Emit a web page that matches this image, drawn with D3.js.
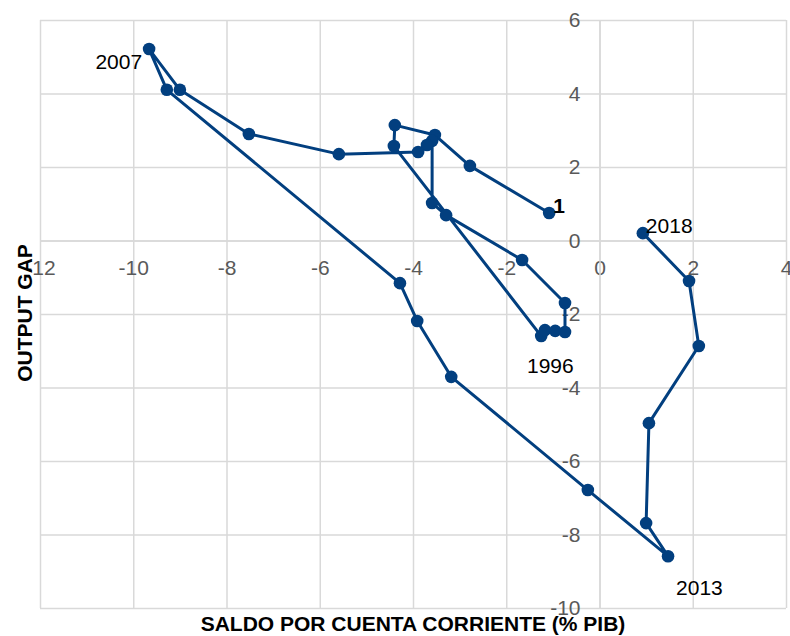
<!DOCTYPE html>
<html>
<head>
<meta charset="utf-8">
<script src="https://cdnjs.cloudflare.com/ajax/libs/d3/7.8.5/d3.min.js"></script>
<style>
body { margin: 0; background: #fff; }
svg { display: block; font-family: "Liberation Sans", Arial, sans-serif; }
</style>
</head>
<body>
<script>
var width = 790;
var height = 636;

// data
var years = [1988, 1989, 1990, 1991, 1992, 1993, 1994, 1995, 1996, 1997,
  1998, 1999, 2000, 2001, 2002, 2003, 2004, 2005, 2006, 2007,
  2008, 2009, 2010, 2011, 2012, 2013, 2014, 2015, 2016, 2017, 2018];
var saldoCC = [-1.08, -2.78, -3.53, -4.39, -4.41, -1.25, -1.17, -0.95, -0.74, -0.74,
  -1.66, -3.29, -3.59, -3.59, -3.70, -3.89, -5.59, -7.52, -9.0, -9.66,
  -9.28, -4.28, -3.91, -3.18, -0.25, 1.47, 1.0, 1.06, 2.13, 1.92, 0.93];
var outputGap = [0.75, 2.03, 2.87, 3.14, 2.57, -2.6, -2.44, -2.46, -2.49, -1.70,
  -0.53, 0.69, 1.02, 2.71, 2.60, 2.41, 2.35, 2.90, 4.10, 5.21,
  4.10, -1.16, -2.19, -3.71, -6.79, -8.59, -7.69, -4.97, -2.87, -1.10, 0.20];
var labelYears = [1988, 1996, 2007, 2013, 2018];
var labelTexts = ["1", "1996", "2007", "2013", "2018"];

var xTicks = [-12, -10, -8, -6, -4, -2, 0, 2, 4];
var yTicks = [-10, -8, -6, -4, -2, 0, 2, 4, 6];

var points = years.map(function(y, i) {
  return {year: y, x: saldoCC[i], y: outputGap[i]};
});

var plotLeft = 40, plotRight = 786, plotTop = 20, plotBottom = 608;

var xScale = d3.scaleLinear().domain([-12, 4]).range([plotLeft, plotRight]);
var yScale = d3.scaleLinear().domain([-10, 6]).range([plotBottom, plotTop]);

var svg = d3.select("body").append("svg")
  .attr("width", width)
  .attr("height", height);

var gridColor = "#d9d9d9";
var fmt = function(d) { return String(d); };

// grid
var gx = svg.append("g")
  .attr("transform", "translate(0," + plotBottom + ")")
  .call(d3.axisBottom(xScale).tickValues(xTicks).tickSize(-(plotBottom - plotTop)).tickFormat(""));
var gy = svg.append("g")
  .attr("transform", "translate(" + plotLeft + ",0)")
  .call(d3.axisLeft(yScale).tickValues(yTicks).tickSize(-(plotRight - plotLeft)).tickFormat(""));
[gx, gy].forEach(function(g) {
  g.select(".domain").remove();
  g.selectAll("line").attr("stroke", gridColor).attr("stroke-width", 1.5);
});

// axes crossing at the origin
var xAxis = svg.append("g")
  .attr("transform", "translate(0," + yScale(0) + ")")
  .call(d3.axisBottom(xScale).tickValues(xTicks).tickSize(0).tickPadding(20).tickFormat(fmt));
var yAxis = svg.append("g")
  .attr("transform", "translate(" + xScale(0) + ",0)")
  .call(d3.axisLeft(yScale).tickValues(yTicks).tickSize(0).tickPadding(19).tickFormat(fmt));
[xAxis, yAxis].forEach(function(g) {
  g.select(".domain").attr("stroke", gridColor).attr("stroke-width", 1.5);
  g.selectAll("text")
    .attr("font-family", "Liberation Sans, Arial, sans-serif")
    .attr("font-size", "21px")
    .attr("fill", "#595959");
});

// line + markers
var lineColor = "#023f7f";
var line = d3.line()
  .x(function(d) { return xScale(d.x); })
  .y(function(d) { return yScale(d.y); });

svg.append("path")
  .datum(points)
  .attr("d", line)
  .attr("fill", "none")
  .attr("stroke", lineColor)
  .attr("stroke-width", 3)
  .attr("stroke-linejoin", "round");

svg.selectAll(".dot")
  .data(points)
  .enter()
  .append("circle")
  .attr("class", "dot")
  .attr("cx", function(d) { return xScale(d.x); })
  .attr("cy", function(d) { return yScale(d.y); })
  .attr("r", 6.3)
  .attr("fill", lineColor);

// data labels
var labelOffset = {
  1988: {dx: 4, dy: 0, anchor: "start", weight: "bold"},
  1996: {dx: -38, dy: 41, anchor: "start", weight: "normal"},
  2007: {dx: -7, dy: 20, anchor: "end", weight: "normal"},
  2013: {dx: 8, dy: 39, anchor: "start", weight: "normal"},
  2018: {dx: 3, dy: 0, anchor: "start", weight: "normal"}
};

svg.selectAll(".lbl")
  .data(labelYears)
  .enter()
  .append("text")
  .attr("class", "lbl")
  .attr("x", function(yr) { var p = points[years.indexOf(yr)]; return xScale(p.x) + labelOffset[yr].dx; })
  .attr("y", function(yr) { var p = points[years.indexOf(yr)]; return yScale(p.y) + labelOffset[yr].dy; })
  .attr("text-anchor", function(yr) { return labelOffset[yr].anchor; })
  .attr("font-weight", function(yr) { return labelOffset[yr].weight; })
  .attr("font-size", "21px")
  .attr("fill", "#000")
  .text(function(yr, i) { return labelTexts[i]; });

// axis titles
svg.append("text")
  .attr("x", 413)
  .attr("y", 631)
  .attr("text-anchor", "middle")
  .attr("font-weight", "bold")
  .attr("font-size", "21px")
  .attr("fill", "#000")
  .text("SALDO POR CUENTA CORRIENTE (% PIB)");

svg.append("text")
  .attr("transform", "translate(32,313) rotate(-90)")
  .attr("text-anchor", "middle")
  .attr("font-weight", "bold")
  .attr("font-size", "21px")
  .attr("fill", "#000")
  .text("OUTPUT GAP");
</script>
</body>
</html>
